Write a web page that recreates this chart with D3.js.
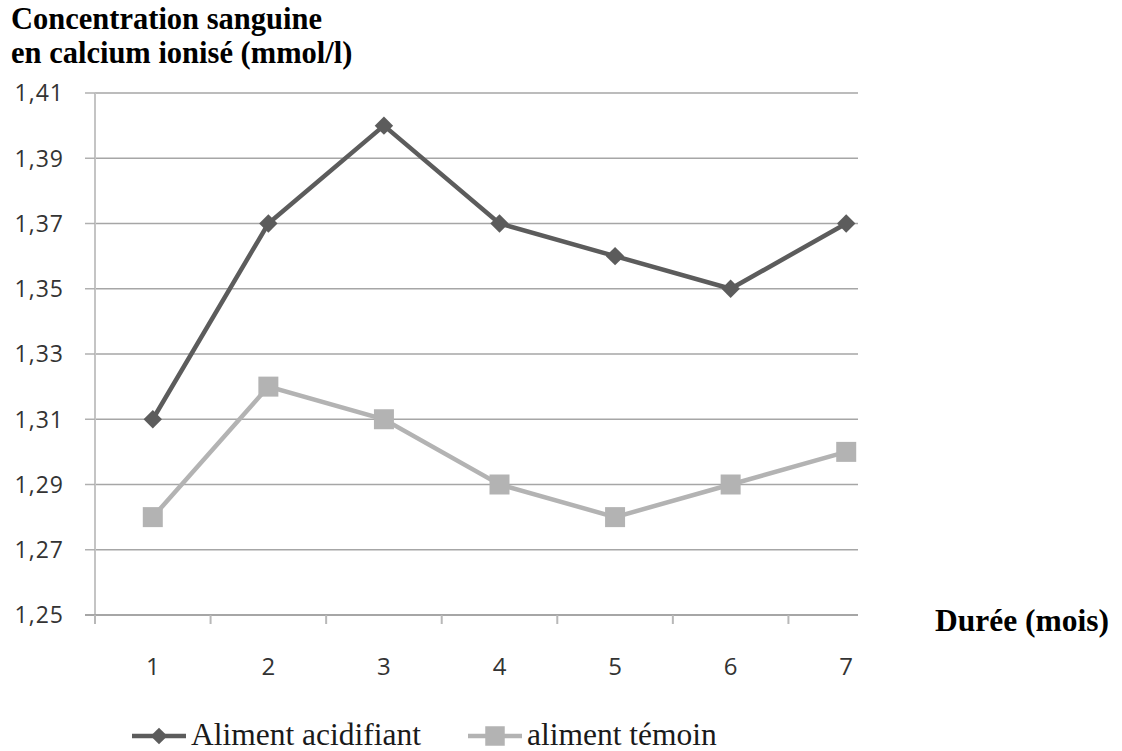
<!DOCTYPE html>
<html><head><meta charset="utf-8">
<script src="https://cdn.jsdelivr.net/npm/d3@7"></script>
<style>body{margin:0;background:#fff}svg{display:block}</style>
</head><body>
<svg id="c" width="1122" height="751"></svg>
<script>
const months = ["1","2","3","4","5","6","7"];
const acidifiant = [1.31, 1.37, 1.40, 1.37, 1.36, 1.35, 1.37];
const temoin = [1.28, 1.32, 1.31, 1.29, 1.28, 1.29, 1.30];
const yTicks = [1.25, 1.27, 1.29, 1.31, 1.33, 1.35, 1.37, 1.39, 1.41];
const seriesNames = ["Aliment acidifiant", "aliment témoin"];
const titleLines = ["Concentration sanguine", "en calcium ionisé (mmol/l)"];
const xTitle = "Durée (mois)";

const svg = d3.select("#c");
const plotLeft = 95, plotRight = 858, plotTop = 93, plotBottom = 615;
const x = d3.scaleBand().domain(months).range([95, 904]).padding(0);
const y = d3.scaleLinear().domain([1.25, 1.41]).range([plotBottom, plotTop]);
const fmt = d => d.toFixed(2).replace(".", ",");

// gridlines
svg.append("g").selectAll("line").data(yTicks.slice(1)).join("line")
  .attr("x1", plotLeft).attr("x2", plotRight)
  .attr("y1", d => y(d)).attr("y2", d => y(d))
  .attr("stroke", "#a6a6a6").attr("stroke-width", 1.5);

// y axis line
svg.append("line").attr("x1", plotLeft).attr("x2", plotLeft)
  .attr("y1", plotTop).attr("y2", plotBottom + 8)
  .attr("stroke", "#c4c4c4").attr("stroke-width", 2);
// y tick marks (short left)
svg.append("g").selectAll("line").data(yTicks).join("line")
  .attr("x1", plotLeft - 10).attr("x2", plotLeft)
  .attr("y1", d => y(d)).attr("y2", d => y(d))
  .attr("stroke", "#b0b0b0").attr("stroke-width", 1.5);
// y labels
svg.append("g").selectAll("text").data(yTicks).join("text")
  .attr("x", 64).attr("y", d => y(d)).attr("dy", "0.36em")
  .attr("text-anchor", "end")
  .attr("font-family", "Open Sans, sans-serif").attr("font-size", 23)
  .attr("letter-spacing", 1).attr("fill", "#333").text(fmt);

// x axis line
svg.append("line").attr("x1", plotLeft - 10).attr("x2", plotRight)
  .attr("y1", plotBottom).attr("y2", plotBottom)
  .attr("stroke", "#a6a6a6").attr("stroke-width", 2);
// x tick marks at band boundaries
const boundaries = months.map(m => x(m));
svg.append("g").selectAll("line").data(boundaries).join("line")
  .attr("x1", d => d).attr("x2", d => d)
  .attr("y1", plotBottom).attr("y2", plotBottom + 9)
  .attr("stroke", "#b8b8b8").attr("stroke-width", 2);
// x labels
svg.append("g").selectAll("text").data(months).join("text")
  .attr("x", d => x(d) + x.bandwidth() / 2).attr("y", 675)
  .attr("text-anchor", "middle")
  .attr("font-family", "Open Sans, sans-serif").attr("font-size", 24)
  .attr("fill", "#333").text(d => d);

const cx = (d, i) => x(months[i]) + x.bandwidth() / 2;
const line = d3.line().x((d, i) => cx(d, i)).y(d => y(d));

// témoin series
svg.append("path").datum(temoin).attr("d", line)
  .attr("fill", "none").attr("stroke", "#b3b3b3").attr("stroke-width", 4.5);
svg.append("g").selectAll("rect").data(temoin).join("rect")
  .attr("x", (d, i) => cx(d, i) - 10).attr("y", d => y(d) - 10)
  .attr("width", 20).attr("height", 20).attr("fill", "#b3b3b3");

// acidifiant series
svg.append("path").datum(acidifiant).attr("d", line)
  .attr("fill", "none").attr("stroke", "#5c5c5c").attr("stroke-width", 4.5);
svg.append("g").selectAll("path").data(acidifiant).join("path")
  .attr("transform", (d, i) => `translate(${cx(d, i)},${y(d)}) rotate(45)`)
  .attr("d", d3.symbol().type(d3.symbolSquare).size(170)).attr("fill", "#5c5c5c");

// titles
svg.append("g").selectAll("text").data(titleLines).join("text")
  .attr("x", 11).attr("y", (d, i) => 29 + i * 34)
  .attr("font-family", "Liberation Serif, Times New Roman, serif")
  .attr("font-weight", "bold").attr("font-size", 30.5).attr("fill", "#000").text(d => d);
svg.append("text").attr("x", 935).attr("y", 631)
  .attr("font-family", "Liberation Serif, Times New Roman, serif")
  .attr("font-weight", "bold").attr("font-size", 31.5).attr("fill", "#000").text(xTitle);

// legend
const legend = [
  {name: seriesNames[0], color: "#5c5c5c", shape: "diamond", x0: 132},
  {name: seriesNames[1], color: "#b3b3b3", shape: "square", x0: 468}
];
const lg = svg.append("g").selectAll("g").data(legend).join("g")
  .attr("transform", d => `translate(${d.x0},736)`);
lg.append("line").attr("x1", 0).attr("x2", 54).attr("y1", 0).attr("y2", 0)
  .attr("stroke", d => d.color).attr("stroke-width", 4.5);
lg.append("path")
  .attr("transform", d => d.shape === "diamond" ? "translate(27,0) rotate(45)" : "translate(27,0)")
  .attr("d", d => d3.symbol().type(d3.symbolSquare).size(d.shape === "diamond" ? 140 : 380)())
  .attr("fill", d => d.color);
lg.append("text").attr("x", 59).attr("y", 9)
  .attr("font-family", "Liberation Serif, Times New Roman, serif")
  .attr("font-size", 31.5).attr("fill", "#1a1a1a").text(d => d.name);
</script>
</body></html>
